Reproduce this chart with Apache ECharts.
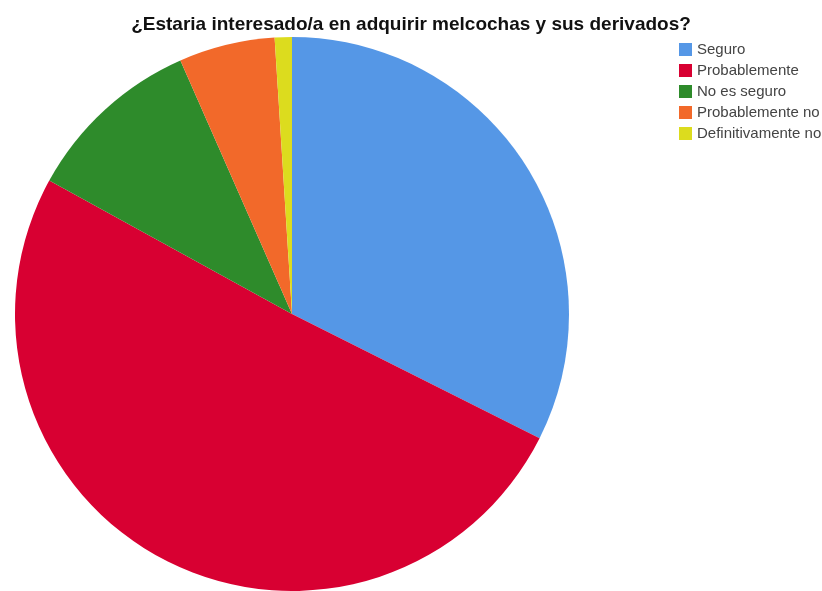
<!DOCTYPE html>
<html>
<head>
<meta charset="utf-8">
<style>
  html, body { margin: 0; padding: 0; background: #ffffff; }
  #chart { width: 822px; height: 591px; }
</style>
<script src="https://cdn.jsdelivr.net/npm/echarts@6/dist/echarts.min.js"></script>
</head>
<body>
<div id="chart"></div>
<script>
// Survey answers and their share of responses (%)
const categories = ['Seguro', 'Probablemente', 'No es seguro', 'Probablemente no', 'Definitivamente no'];
const values = [32.4, 50.6, 10.4, 5.6, 1.0];
const colors = ['#5597e6', '#d80032', '#2e8b2b', '#f2692a', '#dcdc1e'];
const title = '¿Estaria interesado/a en adquirir melcochas y sus derivados?';

const chart = echarts.init(document.getElementById('chart'), null, { renderer: 'canvas' });

chart.setOption({
  animation: false,
  backgroundColor: '#ffffff',
  color: colors,
  title: {
    text: title,
    left: 'center',
    top: 10,
    textStyle: {
      fontFamily: 'Liberation Sans, Arial, sans-serif',
      fontSize: 19,
      fontWeight: 'bold',
      color: '#111111'
    }
  },
  legend: {
    orient: 'vertical',
    left: 674,
    top: 37,
    itemWidth: 13,
    itemHeight: 13,
    itemGap: 6,
    icon: 'rect',
    data: categories,
    textStyle: {
      fontFamily: 'Liberation Sans, Arial, sans-serif',
      fontSize: 15,
      color: '#444444',
      lineHeight: 13
    }
  },
  series: [{
    type: 'pie',
    center: [292, 314],
    radius: 277,
    startAngle: 90,
    clockwise: true,
    label: { show: false },
    labelLine: { show: false },
    emphasis: { disabled: true },
    itemStyle: { borderWidth: 0 },
    data: categories.map((name, i) => ({ name, value: values[i] }))
  }]
});
</script>
</body>
</html>
